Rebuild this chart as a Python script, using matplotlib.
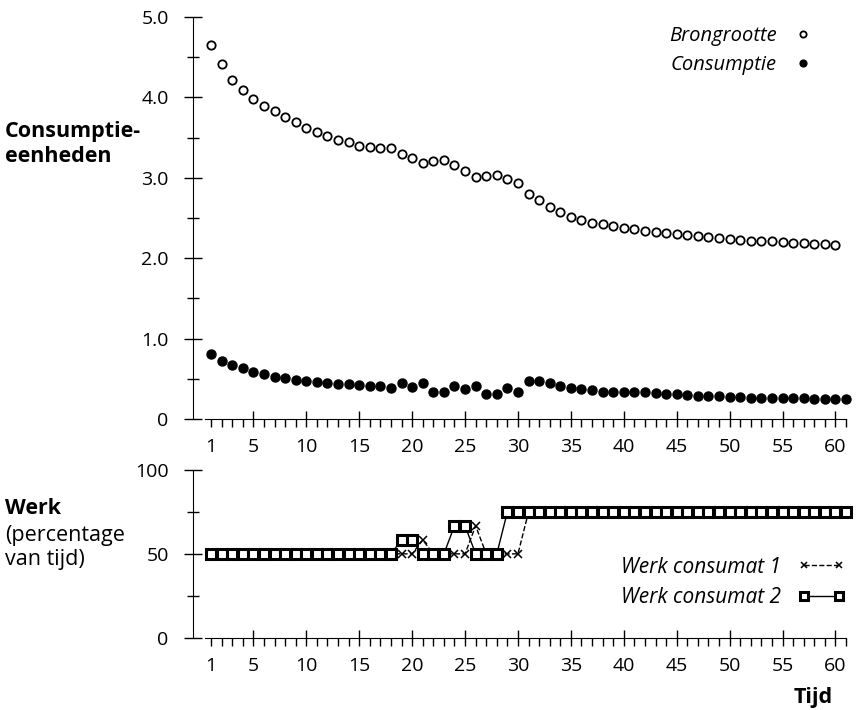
import numpy as np
import matplotlib
matplotlib.use("Agg")
import matplotlib.pyplot as plt
from matplotlib.ticker import FixedLocator, FixedFormatter

plt.rcParams['font.family'] = ['Open Sans', 'DejaVu Sans']

# data
tijd_bron = np.arange(1, 61)
brongrootte = [4.65, 4.41, 4.22, 4.09, 3.98, 3.89, 3.83, 3.76, 3.69, 3.62,
               3.57, 3.52, 3.47, 3.45, 3.40, 3.38, 3.37, 3.37, 3.30, 3.25,
               3.19, 3.21, 3.22, 3.16, 3.09, 3.01, 3.02, 3.04, 2.98, 2.93,
               2.80, 2.72, 2.64, 2.57, 2.51, 2.47, 2.44, 2.42, 2.40, 2.38,
               2.36, 2.34, 2.32, 2.31, 2.30, 2.29, 2.27, 2.26, 2.25, 2.24,
               2.23, 2.22, 2.21, 2.21, 2.20, 2.19, 2.19, 2.18, 2.18, 2.17]

tijd_cons = np.arange(1, 62)
consumptie = [0.81, 0.72, 0.67, 0.63, 0.58, 0.56, 0.52, 0.51, 0.49, 0.47,
              0.46, 0.45, 0.44, 0.44, 0.42, 0.41, 0.41, 0.38, 0.45, 0.40,
              0.45, 0.34, 0.34, 0.41, 0.37, 0.41, 0.31, 0.31, 0.38, 0.34,
              0.47, 0.47, 0.45, 0.41, 0.39, 0.37, 0.36, 0.34, 0.34, 0.34,
              0.33, 0.33, 0.32, 0.31, 0.31, 0.30, 0.28, 0.28, 0.28, 0.27,
              0.27, 0.26, 0.26, 0.26, 0.26, 0.26, 0.26, 0.25, 0.25, 0.25,
              0.25]

tijd_werk = np.arange(1, 62)
werk1 = [50]*20 + [58.3] + [50]*4 + [66.7] + [50]*4 + [75]*31
werk2 = [50]*18 + [58.3, 58.3] + [50]*3 + [66.7, 66.7] + [50]*3 + [75]*33

x_major = list(range(5, 61, 5))
top_yticks = [0, 1, 2, 3, 4, 5]
top_ylabels = ['0', '1.0', '2.0', '3.0', '4.0', '5.0']
bot_yticks = [0, 50, 100]
bot_ylabels = ['0', '50', '100']

FS = 14
TFS = 15.5


def style_x(ax):
    ax.set_xlim(-0.71, 61)
    ax.spines['bottom'].set_bounds(0.4, 61)
    ax.xaxis.set_major_locator(FixedLocator(x_major))
    ax.xaxis.set_major_formatter(FixedFormatter([str(v) for v in x_major]))
    ax.xaxis.set_minor_locator(FixedLocator(list(range(1, 62))))
    ax.xaxis.set_minor_formatter(FixedFormatter(['1'] + [''] * 60))
    ax.tick_params(axis='x', which='major', direction='inout', length=12,
                   width=1, pad=8, labelsize=FS)
    ax.tick_params(axis='x', which='minor', direction='out', length=6,
                   width=1, pad=8, labelsize=FS)
    for s in ['top', 'right']:
        ax.spines[s].set_visible(False)
    ax.tick_params(axis='y', which='major', direction='inout', length=13,
                   width=1, pad=11, labelsize=FS)
    ax.tick_params(axis='y', which='minor', direction='inout', length=9,
                   width=1)


fig = plt.figure(figsize=(8.6, 7.1), dpi=100)

# top panel
ax1 = fig.add_axes([193/860, 1 - 419/710, (846-193)/860, (419-17)/710])
ax1.plot(tijd_bron, brongrootte, 'o', ms=6, mfc='white', mec='black',
         mew=1.3, label='Brongrootte', clip_on=False)
ax1.plot(tijd_cons, consumptie, 'o', ms=6.5, color='black',
         label='Consumptie', clip_on=False)
ax1.set_ylim(0, 5)
style_x(ax1)
ax1.spines['left'].set_bounds(0, 5)
ax1.yaxis.set_major_locator(FixedLocator(top_yticks))
ax1.yaxis.set_major_formatter(FixedFormatter(top_ylabels))
ax1.yaxis.set_minor_locator(FixedLocator([0.5, 1.5, 2.5, 3.5, 4.5]))
ax1.legend(loc='upper right', bbox_to_anchor=(831/860, 1 - 8/710),
           bbox_transform=fig.transFigure, frameon=False, markerfirst=False,
           numpoints=1, markerscale=0.75, handlelength=1.0, handletextpad=0.8,
           labelspacing=0.45, prop={'style': 'italic', 'size': FS + 0.5})

# bottom panel
ax2 = fig.add_axes([193/860, 1 - 637.7/710, (846-193)/860, (637.7-470)/710])
ax2.plot(tijd_werk, werk1, '--', color='black', lw=1, marker='x', ms=6,
         mew=1.1, label='Werk consumat 1', clip_on=False)
ax2.plot(tijd_werk, werk2, '-', color='black', lw=1, marker='s', ms=7,
         mfc='white', mec='black', mew=2.2, label='Werk consumat 2',
         clip_on=False)
ax2.set_ylim(0, 100)
style_x(ax2)
ax2.spines['left'].set_bounds(0, 100)
ax2.yaxis.set_major_locator(FixedLocator(bot_yticks))
ax2.yaxis.set_major_formatter(FixedFormatter(bot_ylabels))
ax2.yaxis.set_minor_locator(FixedLocator([25, 75]))
ax2.legend(loc='upper right', bbox_to_anchor=(864/860, 1 - 538/710),
           bbox_transform=fig.transFigure, frameon=False, markerfirst=False,
           numpoints=2, markerscale=0.8, handlelength=2.3, handletextpad=0.8,
           labelspacing=0.45, prop={'style': 'italic', 'size': FS + 1})

# axis titles
fig.text(5/860, 1 - 131/710, 'Consumptie-', fontsize=TFS, fontweight='bold',
         va='center', ha='left')
fig.text(5/860, 1 - 157/710, 'eenheden', fontsize=TFS, fontweight='bold',
         va='center', ha='left')
fig.text(5/860, 1 - 509/710, 'Werk', fontsize=TFS, fontweight='bold',
         va='center', ha='left')
fig.text(5/860, 1 - 535/710, '(percentage', fontsize=TFS,
         va='center', ha='left')
fig.text(5/860, 1 - 559/710, 'van tijd)', fontsize=TFS,
         va='center', ha='left')
fig.text(813/860, 1 - 697/710, 'Tijd', fontsize=TFS, fontweight='bold',
         va='center', ha='center')

fig.savefig('out.png', dpi=100)
